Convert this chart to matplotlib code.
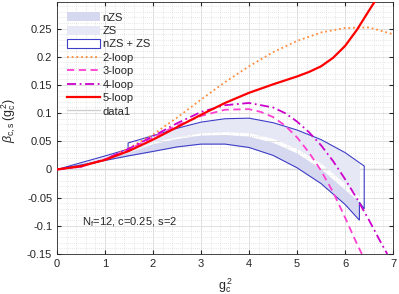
import numpy as np
import matplotlib
matplotlib.use("Agg")
import matplotlib.pyplot as plt
from matplotlib.ticker import MultipleLocator
from matplotlib.patches import Patch
from matplotlib.lines import Line2D

plt.rcParams['font.family'] = ['Liberation Sans', 'DejaVu Sans']
plt.rcParams['mathtext.fontset'] = 'custom'
plt.rcParams['mathtext.rm'] = 'Liberation Sans'
plt.rcParams['mathtext.it'] = 'Liberation Sans:italic'

# ---- data ----
x2 = [0, 0.5, 1.0, 1.5, 2.0, 2.5, 3.0, 3.5, 4.0, 4.5, 5.0, 5.5, 6.0, 6.5, 7.0]
loop2 = [0, 0.005, 0.018, 0.038, 0.062, 0.092, 0.124, 0.155, 0.183, 0.208, 0.228, 0.243, 0.251, 0.252, 0.240]

x3 = [0, 0.5, 1.0, 1.5, 2.0, 2.5, 3.0, 3.5, 4.0, 4.25, 4.5, 4.75, 5.0, 5.25, 5.5, 5.75, 6.0, 6.2, 6.35]
loop3 = [0, 0.005, 0.018, 0.036, 0.057, 0.078, 0.095, 0.106, 0.107, 0.102, 0.093, 0.078, 0.057, 0.030, -0.002, -0.040, -0.085, -0.123, -0.15]

x4 = [0, 0.5, 1.0, 1.5, 2.0, 2.5, 3.0, 3.5, 4.0, 4.5, 4.75, 5.0, 5.25, 5.5, 5.75, 6.0, 6.25, 6.5, 6.75, 6.88]
loop4 = [0, 0.005, 0.018, 0.037, 0.059, 0.082, 0.102, 0.114, 0.118, 0.110, 0.100, 0.085, 0.066, 0.043, 0.015, -0.017, -0.052, -0.090, -0.130, -0.15]

x5 = [0, 0.5, 1.0, 1.5, 2.0, 2.5, 3.0, 3.5, 4.0, 4.5, 5.0, 5.25, 5.5, 5.75, 6.0, 6.25, 6.5, 6.62]
loop5 = [0, 0.006, 0.017, 0.033, 0.053, 0.075, 0.097, 0.118, 0.136, 0.151, 0.165, 0.173, 0.183, 0.198, 0.219, 0.248, 0.282, 0.298]

band_x = [0, 0.5, 1.0, 1.48, 2.0, 2.5, 3.0, 3.5, 4.0, 4.5, 5.0, 5.5, 6.0, 6.30]
nzs_lo = [0, 0.008, 0.016, 0.024, 0.032, 0.040, 0.045, 0.045, 0.039, 0.025, 0.003, -0.025, -0.062, -0.090]
nzs_hi = [0, 0.010, 0.020, 0.030, 0.046, 0.055, 0.061, 0.062, 0.059, 0.048, 0.029, 0.001, -0.036, -0.058]
zs_lo = [0, 0.010, 0.020, 0.030, 0.049, 0.058, 0.065, 0.067, 0.065, 0.055, 0.037, 0.011, -0.025, -0.048]
zs_hi = [0, 0.012, 0.024, 0.036, 0.060, 0.073, 0.084, 0.090, 0.091, 0.083, 0.070, 0.053, 0.030, 0.010]

env_up_x = [0, 0.5, 1.0, 1.48, 1.48, 2.0, 2.5, 3.0, 3.5, 4.0, 4.5, 5.0, 5.5, 6.0, 6.40]
env_up_y = [0, 0.012, 0.024, 0.036, 0.047, 0.060, 0.073, 0.084, 0.090, 0.091, 0.083, 0.070, 0.053, 0.030, 0.006]
env_tail_x = [6.40, 6.30, 6.30]
env_tail_y = [-0.070, -0.058, -0.090]
env_lo_x = [0, 0.5, 1.0, 1.48, 2.0, 2.5, 3.0, 3.5, 4.0, 4.5, 5.0, 5.5, 6.0, 6.30]
env_lo_y = [0, 0.008, 0.016, 0.024, 0.032, 0.040, 0.045, 0.045, 0.039, 0.025, 0.003, -0.025, -0.062, -0.090]

zero_x = [0, 7]
zero_y = [0, 0]

annot = "N$_{\\rm f}$=12, c=0.25, s=2"

# ---- figure ----
fig = plt.figure(figsize=(3.99, 2.94), dpi=100)
ax = fig.add_axes([0.143, 0.136, 0.842, 0.857])

c_nzs = '#d6d8ef'
c_zs = '#e7e8f6'
c_env = '#3d3dc8'

ax.fill_between(band_x, zs_lo, zs_hi, color=c_zs, lw=0, zorder=1)
ax.fill_between(band_x, nzs_lo, nzs_hi, color=c_nzs, lw=0, zorder=1)
ex = env_up_x + env_tail_x + env_lo_x[::-1]
ey = env_up_y + env_tail_y + env_lo_y[::-1]
ax.fill(ex, ey, facecolor='none', edgecolor=c_env, lw=0.8, zorder=2)

ax.plot(x2, loop2, color='#ff8c3a', ls=(0, (1, 1.6)), lw=1.3, zorder=3)
ax.plot(x3, loop3, color='#ff3fd2', ls=(0, (4, 2.5)), lw=1.3, zorder=3)
ax.plot(x4, loop4, color='#cc00cc', ls=(0, (5, 2, 1, 2)), lw=1.3, zorder=3)
ax.plot(x5, loop5, color='#ff0000', ls='-', lw=1.6, zorder=4)
ax.plot(zero_x, zero_y, color='#cfcfcf', lw=1.0, zorder=0.5)

ax.set_xlim(0, 7)
ax.set_ylim(-0.15, 0.297)
ax.xaxis.set_major_locator(MultipleLocator(1))
ax.xaxis.set_minor_locator(MultipleLocator(0.2))
ax.yaxis.set_major_locator(MultipleLocator(0.05))
ax.yaxis.set_minor_locator(MultipleLocator(0.01))
ax.set_yticks([-0.15, -0.1, -0.05, 0, 0.05, 0.1, 0.15, 0.2, 0.25])
ax.set_yticklabels(['-0.15', '-0.1', '-0.05', '0', '0.05', '0.1', '0.15', '0.2', '0.25'])
ax.grid(which='major', color='#dcdcdc', lw=0.6, ls='-', zorder=0)
ax.grid(which='minor', color='#cfcfcf', lw=0.5, ls=(0, (1, 2)), zorder=0)
ax.set_axisbelow(True)
ax.tick_params(which='both', direction='in', top=True, right=True, labelsize=8,
               colors='#262626', length=3)
ax.tick_params(which='minor', length=0)
for s in ax.spines.values():
    s.set_color('#262626')
    s.set_linewidth(0.6)

ax.set_xlabel('g$_{\\rm c}^{\\,2}$', fontsize=9, color='#262626', labelpad=5)
ax.set_ylabel('$\\beta_{\\rm c,s}\\,$(g$_{\\rm c}^{\\,2}$)', fontsize=9, color='#262626', labelpad=-2)
ax.yaxis.set_label_coords(-0.115, 0.53)

ax.text(0.51, -0.094, annot, fontsize=8, color='#262626', va='center', ha='left')

handles = [
    Patch(facecolor=c_nzs, edgecolor='none'),
    Patch(facecolor=c_zs, edgecolor='none'),
    Patch(facecolor='white', edgecolor=c_env, lw=0.8),
    Line2D([], [], color='#ff8c3a', ls=(0, (1, 1.6)), lw=1.3),
    Line2D([], [], color='#ff3fd2', ls=(0, (4, 2.5)), lw=1.3),
    Line2D([], [], color='#cc00cc', ls=(0, (5, 2, 1, 2)), lw=1.3),
    Line2D([], [], color='#ff0000', lw=1.6),
    Line2D([], [], color='#cfcfcf', lw=1.0),
]
labels = ['nZS', 'ZS', 'nZS + ZS', '2-loop', '3-loop', '4-loop', '5-loop', 'data1']
ax.legend(handles, labels, loc='upper left', frameon=False, fontsize=8,
          handlelength=3.0, handleheight=0.9, handletextpad=0.2, labelspacing=0.27,
          borderaxespad=0.5, borderpad=0.4, labelcolor='#262626')

fig.savefig('out.png', dpi=100)
